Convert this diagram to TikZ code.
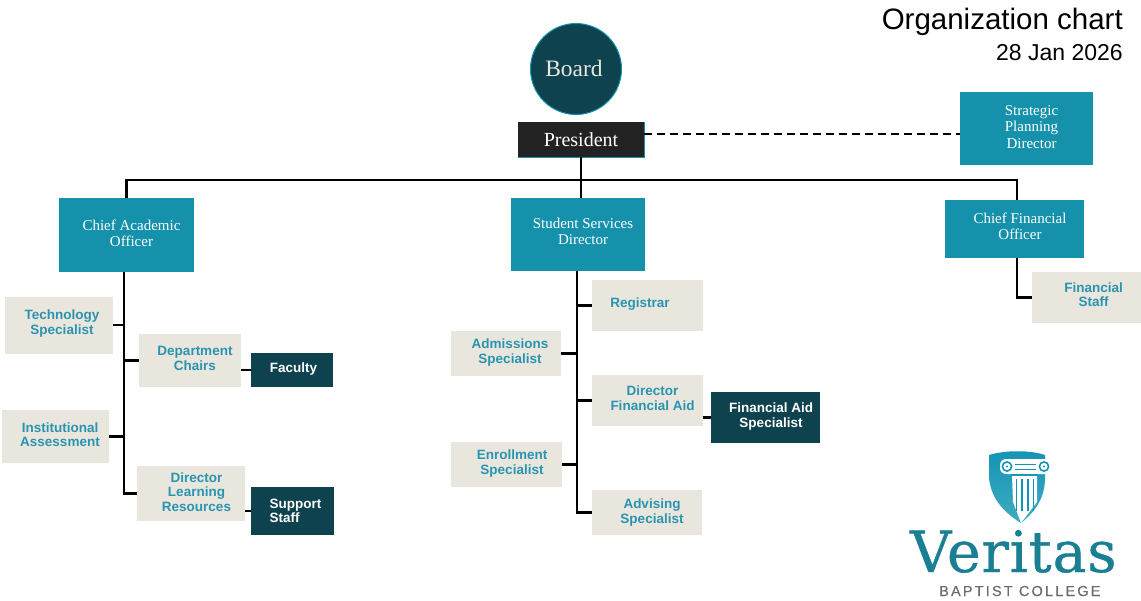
\documentclass[tikz,border=0pt]{standalone}
\usepackage{fontspec}
\setmainfont{Liberation Serif}
\setsansfont{Liberation Sans}
\newfontfamily\logosans[LetterSpace=15,FakeBold=0.25]{Liberation Sans}
\newfontfamily\logoserif[LetterSpace=1.5,FakeBold=0.7]{DejaVu Serif}
\usetikzlibrary{calc}

\definecolor{tealbox}{RGB}{21,145,172}
\definecolor{tealtext}{RGB}{42,148,176}
\definecolor{darkbox}{RGB}{13,66,78}
\definecolor{creambox}{RGB}{233,230,222}
\definecolor{presbox}{RGB}{34,34,34}
\definecolor{logoteal}{RGB}{26,127,147}
\definecolor{logogray}{RGB}{110,106,104}
\definecolor{shieldtop}{RGB}{20,148,180}
\definecolor{shieldbot}{RGB}{62,172,194}

\tikzset{
  lead/.style={fill=tealbox,text=white,font=\fontsize{15}{16.5}\selectfont,align=center,inner sep=0pt},
  staff/.style={fill=creambox,text=tealtext,font=\fontsize{13.5}{14.5}\selectfont\sffamily\bfseries,align=center,inner sep=0pt},
  unit/.style={fill=darkbox,text=white,font=\fontsize{13.5}{14.5}\selectfont\sffamily\bfseries,align=center,inner sep=0pt},
  conn/.style={line width=2.8pt,line cap=butt}
}

\begin{document}
\begin{tikzpicture}[x=1pt,y=-1pt]
\useasboundingbox (0,0) rectangle (1141,600);

\node[anchor=base east,inner sep=0pt,font=\fontsize{29.5}{30}\selectfont\sffamily] (title) at (1123,29) {Organization chart};
\node[anchor=base east,inner sep=0pt,font=\fontsize{23}{24}\selectfont\sffamily] (date) at (1123,60) {28 Jan 2026};

\node[circle,fill=darkbox,draw=tealbox,line width=1pt,text=creambox,font=\fontsize{23.5}{24}\selectfont,minimum size=91pt,inner sep=0pt,text depth=2.2pt] (board) at (576,69) {Board\hspace*{4pt}};
\node[fill=presbox,text=white,font=\fontsize{20}{21}\selectfont,minimum width=126pt,minimum height=35pt,inner sep=0pt] (pres) at (581,139.5) {President};
\draw[tealbox,line width=1pt] (pres.north east) -- (pres.south east) -- (pres.south west);

\node[lead,minimum width=133pt,minimum height=73pt,text depth=3pt] (spd) at (1026.5,128.5) {\hspace*{10pt}Strategic\\\hspace*{10pt}Planning\\\hspace*{10pt}Director};
\node[lead,minimum width=135pt,minimum height=74pt,text depth=4pt] (cao) at (126.5,235) {\hspace*{10pt}Chief Academic\\\hspace*{10pt}Officer};
\node[lead,minimum width=134pt,minimum height=73pt,text depth=6pt] (ssd) at (578,234.5) {\hspace*{10pt}Student Services\\\hspace*{10pt}Director};
\node[lead,minimum width=139pt,minimum height=58pt,text depth=6pt] (cfo) at (1014.5,229) {\hspace*{11pt}Chief Financial\\\hspace*{11pt}Officer};

% academic side
\node[staff,minimum width=108pt,minimum height=57pt,text depth=5.8pt] (tech) at (59,325) {\hspace*{6pt}Technology\\\hspace*{6pt}Specialist};
\node[staff,minimum width=102pt,minimum height=53pt,text depth=4pt] (dept) at (190,360.5) {\hspace*{10pt}Department\\\hspace*{10pt}Chairs};
\node[unit,minimum width=82pt,minimum height=34pt,text depth=4.8pt] (fac) at (292,370) {\hspace*{3pt}Faculty};
\node[staff,minimum width=107pt,minimum height=53pt,text depth=4pt] (inst) at (55.5,436.5) {\hspace*{9pt}Institutional\\\hspace*{9pt}Assessment};
\node[staff,minimum width=108pt,minimum height=55pt,text depth=3pt] (dlr) at (191,493.5) {\hspace*{11pt}Director\\\hspace*{11pt}Learning\\\hspace*{11pt}Resources};
\node[unit,minimum width=83pt,minimum height=48pt,align=left] (sup) at (292.5,511) {\hspace*{6pt}Support\\\hspace*{6pt}Staff};

% student services side
\node[staff,minimum width=111pt,minimum height=51pt,text depth=4.8pt] (reg) at (647.5,305.5) {Registrar\hspace*{15pt}};
\node[staff,minimum width=110pt,minimum height=45pt,text depth=4.8pt] (adm) at (506,353.5) {\hspace*{8pt}Admissions\\\hspace*{8pt}Specialist};
\node[staff,minimum width=111pt,minimum height=51pt,text depth=5pt] (dfa) at (647.5,400.5) {\hspace*{10pt}Director\\\hspace*{10pt}Financial Aid};
\node[unit,minimum width=109pt,minimum height=51pt,text depth=4.8pt] (fas) at (765.5,417.5) {\hspace*{11pt}Financial Aid\\\hspace*{11pt}Specialist};
\node[staff,minimum width=111pt,minimum height=45pt,text depth=4.8pt] (enr) at (506.5,464.5) {\hspace*{11pt}Enrollment\\\hspace*{11pt}Specialist};
\node[staff,minimum width=110pt,minimum height=45pt] (adv) at (647,512.5) {\hspace*{10pt}Advising\\\hspace*{10pt}Specialist};

% finance side
\node[staff,minimum width=109pt,minimum height=51pt,text depth=6pt] (fin) at (1086.5,297.5) {\hspace*{14pt}Financial\\\hspace*{14pt}Staff};

\coordinate (bus) at (580,180);
\coordinate (caospine) at (124,272);
\coordinate (ssdspine) at (577,271);
\coordinate (cfospine) at (1017,258);

\draw[conn] (pres.south) -- (pres.south |- ssd.north);
\draw[conn] (cao.north) |- (bus) -| ([xshift=2.5pt]cfo.north);
\draw[line width=1.8pt,dash pattern=on 8pt off 5pt] ($(pres.east)+(0,-5.5)$) -- ($(spd.west)+(0,5.5)$);

\draw[conn] (caospine) |- (dlr.west);
\draw[conn] (tech.east) -- (tech.east -| caospine);
\draw[conn] (dept.west) -- (dept.west -| caospine);
\draw[conn] (inst.east) -- (inst.east -| caospine);
\draw[conn] (fac.west) -- (fac.west -| dept.east);
\draw[conn] (sup.west) -- (sup.west -| dlr.east);

\draw[conn] (ssdspine) |- (adv.west);
\draw[conn] (reg.west) -- (reg.west -| ssdspine);
\draw[conn] (adm.east) -- (adm.east -| ssdspine);
\draw[conn] (dfa.west) -- (dfa.west -| ssdspine);
\draw[conn] (enr.east) -- (enr.east -| ssdspine);
\draw[conn] (fas.west) -- (fas.west -| dfa.east);

\draw[conn] (cfospine) |- (fin.west);

% logo
\shade[top color=shieldtop,bottom color=shieldbot] (989,455) .. controls (1005,450) and (1030,450) .. (1045,455) -- (1045,478) .. controls (1045,498) and (1035,512) .. (1021,523) .. controls (1003,512) and (991,498) .. (989,478) -- cycle;
\fill[white] (1012,476) -- (1037,476) -- (1037,502) -- (1021,523) -- (1013,502) -- cycle;
\foreach \sx in {1015.5,1021,1027,1032.5}
  \fill[shieldtop] (\sx,479) rectangle ++(1.8,32);
\fill[white,rounded corners=6pt] (1000,459) rectangle (1052,474);
\foreach \vx in {1007,1044}{
  \draw[shieldtop,line width=1.6pt] (\vx,466.5) circle (4.6pt);
  \fill[shieldtop] (\vx,466.5) circle (1.2pt);
}
\foreach \ly in {464,468.5}
  \fill[shieldtop] (1015,\ly) rectangle (1036,\ly+1.4);
\fill[shieldtop] (1011,474) rectangle (1038,475.2);
\node[anchor=base west,text=logoteal,font=\fontsize{57}{58}\selectfont\logoserif,inner sep=0pt] (veritas) at (910,572) {Veritas};
\node[anchor=base west,text=logogray,font=\fontsize{14.5}{15}\selectfont\logosans,inner sep=0pt] (bapt) at (939,596) {BAPTIST COLLEGE};
\end{tikzpicture}
\end{document}
